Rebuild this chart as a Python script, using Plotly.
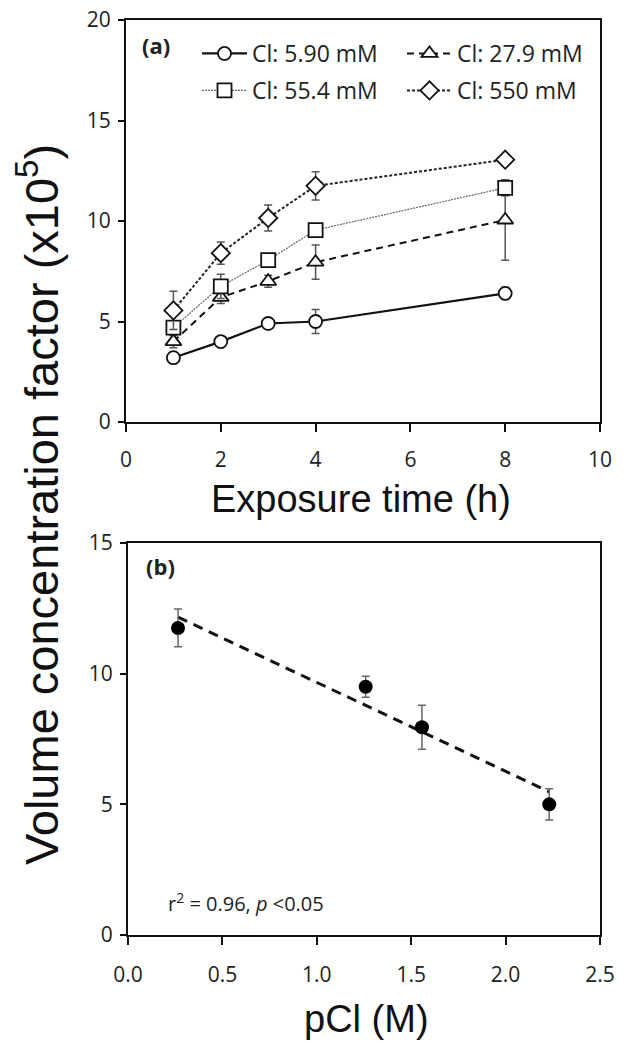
import numpy as np
import plotly.graph_objects as go

# ---------------- data ----------------
hours = [1, 2, 3, 4, 8]
cl_590 = [3.2, 4.0, 4.9, 5.0, 6.4]
cl_590_err = [0.1, 0.1, 0.1, 0.6, 0.3]
cl_279 = [4.0, 6.2, 7.0, 7.95, 10.05]
cl_279_err = [0.3, 0.3, 0.3, 0.85, 2.0]
cl_554 = [4.7, 6.75, 8.05, 9.55, 11.65]
cl_554_err = [0.3, 0.6, 0.3, 0.3, 0.4]
cl_550 = [5.55, 8.4, 10.15, 11.75, 13.05]
cl_550_err = [0.95, 0.55, 0.65, 0.7, 0.2]

pcl = [0.265, 1.259, 1.557, 2.231]
vcf = [11.75, 9.5, 7.95, 5.0]
vcf_err = [0.72, 0.4, 0.84, 0.6]

series_names = ["Cl: 5.90 mM", "Cl: 27.9 mM", "Cl: 55.4 mM", "Cl: 550 mM"]

W, H = 630, 1050
OFF = 8  # page body margin
def px(x):
    return (x - OFF) / W
def py(y):
    return 1 - (y - OFF) / H

fig = go.Figure()

styles = [
    dict(y=cl_590, e=cl_590_err, sym="circle", dash="solid", lw=2.2, lc="#111", ms=13, leg="legend"),
    dict(y=cl_279, e=cl_279_err, sym="triangle-up", dash="7px,5px", lw=2.0, lc="#111", ms=14, leg="legend"),
    dict(y=cl_554, e=cl_554_err, sym="square", dash="2px,1px", lw=1.2, lc="#666", ms=14, leg="legend2"),
    dict(y=cl_550, e=cl_550_err, sym="diamond", dash="3px,2px", lw=2.0, lc="#222", ms=14, leg="legend2"),
]
for name, s in zip(series_names, styles):
    fig.add_trace(go.Scatter(
        x=hours, y=s["y"], name=name, mode="lines+markers",
        line=dict(color=s["lc"], width=s["lw"], dash=s["dash"]),
        marker=dict(symbol=s["sym"], size=s["ms"], color="white",
                    line=dict(color="#111", width=1.8)),
        error_y=dict(type="data", array=s["e"], visible=True, color="#555",
                     thickness=1.5, width=4),
        xaxis="x", yaxis="y", legend=s["leg"],
    ))

# bottom panel
coef = np.polyfit(pcl, vcf, 1)
fit_x = [min(pcl), max(pcl)]
fit_y = [coef[0] * v + coef[1] for v in fit_x]
fig.add_trace(go.Scatter(
    x=fit_x, y=fit_y, mode="lines", showlegend=False,
    line=dict(color="#111", width=3, dash="10px,7px"),
    xaxis="x2", yaxis="y2",
))
fig.add_trace(go.Scatter(
    x=pcl, y=vcf, mode="markers", showlegend=False,
    marker=dict(symbol="circle", size=14, color="#000"),
    error_y=dict(type="data", array=vcf_err, visible=True, color="#666",
                 thickness=1.5, width=4),
    xaxis="x2", yaxis="y2",
))

tickfont = dict(family="Open Sans", size=21, color="#222")
axis_common = dict(showline=True, linewidth=2, linecolor="#111", mirror=True,
                   ticks="outside", tickwidth=1.5, tickcolor="#111",
                   showgrid=False, zeroline=False, tickfont=tickfont,
                   automargin=False, ticklabeloverflow="allow")

legfont = dict(family="Open Sans", size=23, color="#222")
fig.update_layout(
    width=W, height=H,
    margin=dict(l=0, r=0, t=0, b=0, autoexpand=False),
    paper_bgcolor="white", plot_bgcolor="white",
    xaxis=dict(domain=[px(126), px(600)], range=[0, 10], dtick=2, ticklen=8,
               ticklabelstandoff=10, anchor="y", **axis_common),
    yaxis=dict(domain=[py(422), py(20)], range=[0, 20], dtick=5, ticklen=6,
               ticklabelstandoff=3, anchor="x", **axis_common),
    xaxis2=dict(domain=[px(128), px(600)], range=[0, 2.5], dtick=0.5, ticklen=8,
                ticklabelstandoff=12, tickformat=".1f", anchor="y2", **axis_common),
    yaxis2=dict(domain=[py(935), py(543)], range=[0, 15], dtick=5, ticklen=6,
                ticklabelstandoff=3, anchor="x2", **axis_common),
    legend=dict(orientation="h", x=px(197), y=py(32), xanchor="left", yanchor="top",
                font=legfont, entrywidth=145, entrywidthmode="pixels", itemwidth=45,
                bgcolor="rgba(0,0,0,0)"),
    legend2=dict(orientation="h", x=px(197), y=py(69), xanchor="left", yanchor="top",
                 font=legfont, entrywidth=145, entrywidthmode="pixels", itemwidth=45,
                 bgcolor="rgba(0,0,0,0)"),
    showlegend=True,
)

annos = [
    dict(text="<b>(a)</b>", x=px(140), y=py(45), xanchor="left", yanchor="middle",
         font=dict(family="Open Sans", size=22, color="#222")),
    dict(text="<b>(b)</b>", x=px(144), y=py(566), xanchor="left", yanchor="middle",
         font=dict(family="Open Sans", size=22, color="#222")),
    dict(text="r<sup>2</sup> = 0.96, <i>p</i> <0.05", x=px(166), y=py(902),
         xanchor="left", yanchor="middle",
         font=dict(family="Open Sans", size=20, color="#222")),
    dict(text="Exposure time (h)", x=px(361), y=py(499), xanchor="center", yanchor="middle",
         font=dict(family="Liberation Sans", size=38, color="#111")),
    dict(text="pCl (M)", x=px(366), y=py(1019), xanchor="center", yanchor="middle",
         font=dict(family="Liberation Sans", size=38, color="#111")),
    dict(text="Volume concentration factor (x10<sup>5</sup>)", x=px(38), y=py(505),
         xanchor="center", yanchor="middle", textangle=-90,
         font=dict(family="Liberation Sans", size=47, color="#111")),
]
for a in annos:
    a.update(xref="paper", yref="paper", showarrow=False)
    fig.add_annotation(**a)

fig.write_html("out.html")
